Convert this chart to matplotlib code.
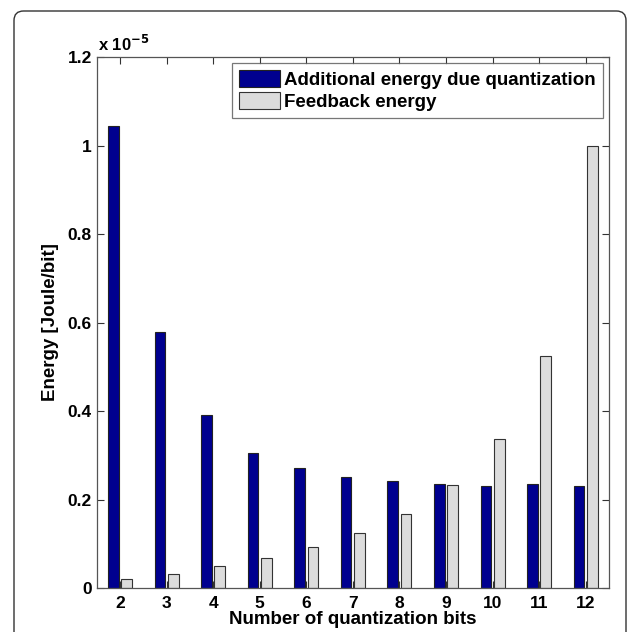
import matplotlib.pyplot as plt
import numpy as np
from matplotlib.patches import FancyBboxPatch
from matplotlib.ticker import FuncFormatter

plt.rcParams['font.family'] = ['Liberation Sans', 'DejaVu Sans']
plt.rcParams['font.weight'] = 'bold'

# data (Joule/bit)
bits = [2, 3, 4, 5, 6, 7, 8, 9, 10, 11, 12]
additional_energy = [1.044e-5, 0.579e-5, 0.391e-5, 0.306e-5, 0.272e-5, 0.251e-5,
                     0.242e-5, 0.235e-5, 0.231e-5, 0.235e-5, 0.231e-5]
feedback_energy = [0.020e-5, 0.032e-5, 0.049e-5, 0.068e-5, 0.093e-5, 0.124e-5,
                   0.168e-5, 0.233e-5, 0.336e-5, 0.524e-5, 1.000e-5]
y_ticks = [0, 0.2e-5, 0.4e-5, 0.6e-5, 0.8e-5, 1.0e-5, 1.2e-5]

fig = plt.figure(figsize=(6.39, 6.32), dpi=100)

# rounded frame round the figure
frame = FancyBboxPatch((14 / 639, -0.05), 612 / 639, 1.05 - 11 / 632,
                       boxstyle="round,pad=0,rounding_size=0.015",
                       transform=fig.transFigure, facecolor='none',
                       edgecolor='#333333', linewidth=1.0)
fig.patches.append(frame)

ax = fig.add_axes([0.1513, 0.0696, 0.953 - 0.1513, 0.9098 - 0.0696])

x = np.array(bits)
w = 0.229
ax.bar(x - 0.143, additional_energy, width=w, color='#00008F', edgecolor='#222222',
       linewidth=0.8, label='Additional energy due quantization')
ax.bar(x + 0.143, feedback_energy, width=w, color='#DCDCDC', edgecolor='#333333',
       linewidth=0.8, label='Feedback energy')

ax.set_xlim(1.5, 12.5)
ax.set_ylim(0, 1.2e-5)
ax.set_xticks(bits)
ax.set_yticks(y_ticks)
ax.yaxis.set_major_formatter(FuncFormatter(lambda v, p: '%g' % round(v / 1e-5, 2)))
ax.tick_params(direction='in', top=True, right=True, length=5, width=0.8,
               color='#333333', labelsize=12.5)
ax.tick_params(axis='x', pad=5.5)
for s in ax.spines.values():
    s.set_color('#555555')
    s.set_linewidth(0.9)

ax.set_xlabel('Number of quantization bits', fontsize=13.5, fontweight='bold', labelpad=0)
ax.set_ylabel('Energy [Joule/bit]', fontsize=13.5, fontweight='bold', labelpad=6)

ax.text(0.003, 1.006, r'x 10$^{\mathbf{-5}}$', transform=ax.transAxes, fontsize=12,
        fontweight='bold', ha='left', va='bottom')

leg = ax.legend(loc='upper right', fontsize=13.5, frameon=True, fancybox=False,
                handlelength=2.2, handleheight=1.0, handletextpad=0.2,
                borderaxespad=0.33, borderpad=0.37, labelspacing=0.15)
leg.get_frame().set_edgecolor('#555555')
leg.get_frame().set_linewidth(0.9)

fig.savefig('out.png', dpi=100)
